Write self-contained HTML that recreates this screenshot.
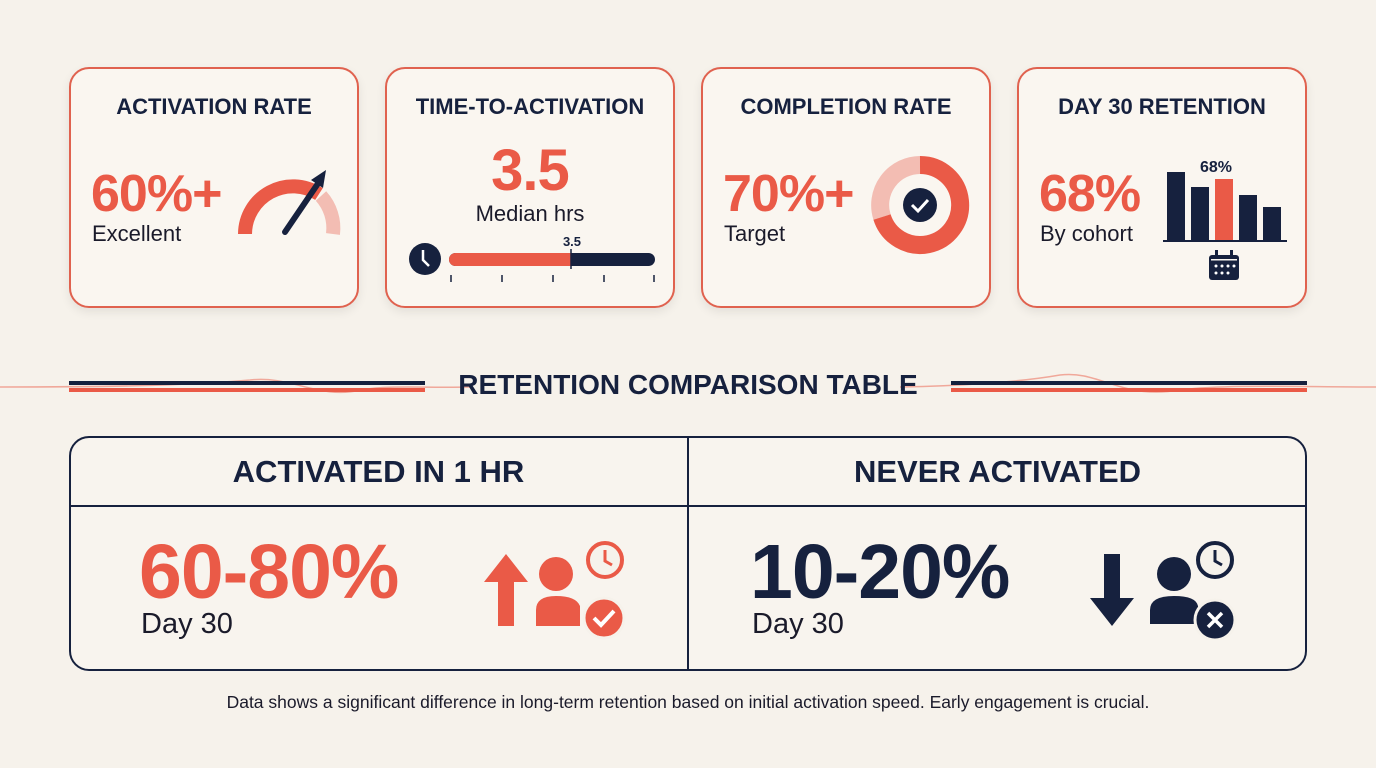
<!DOCTYPE html>
<html><head><meta charset="utf-8"><style>
*{margin:0;padding:0;box-sizing:border-box}
body{width:1376px;height:768px;background:#f6f2eb;font-family:"Liberation Sans",sans-serif;position:relative;overflow:hidden;color:#16213e}
.a{position:absolute}
.card{position:absolute;top:67px;width:290px;height:241px;border:2px solid #e0624f;border-radius:20px;background:#faf6f0;box-shadow:0 4px 10px rgba(0,0,0,0.08)}
.ct{position:absolute;top:25px;left:0;width:100%;text-align:center;font-weight:bold;font-size:22px;color:#16213e}
.big{font-weight:bold;color:#ea5a47;font-size:52px;letter-spacing:-1px}
.sub{font-size:22px;color:#1a1a2a}
</style></head><body>
<svg class="a" style="left:0;top:340px" width="1376" height="80"><path d="M0 47 C100 47 180 46 250 40 C290 35 320 60 360 50 C390 45 420 48 470 47" stroke="#f0a89a" fill="none" stroke-width="1.5"/><path d="M900 47 C960 46 1020 42 1060 35 C1100 30 1120 60 1180 50 C1230 44 1300 47 1376 47" stroke="#f0a89a" fill="none" stroke-width="1.5"/>
<rect x="69" y="41" width="356" height="4" fill="#16213e"/><rect x="69" y="48" width="356" height="4" fill="#ea5a47"/>
<rect x="951" y="41" width="356" height="4" fill="#16213e"/><rect x="951" y="48" width="356" height="4" fill="#ea5a47"/></svg>

<div class="card" style="left:69px"><div class="ct">ACTIVATION RATE</div>
<div class="a big" style="left:20px;top:95px">60%+</div><div class="a sub" style="left:21px;top:152px">Excellent</div>
<svg class="a" style="left:160px;top:95px" width="120" height="80"><path d="M14 70 A48 48 0 0 1 88 30" stroke="#ea5a47" stroke-width="14" fill="none"/><path d="M90 32 A48 48 0 0 1 102 70" stroke="#f3bdb3" stroke-width="14" fill="none"/><line x1="54" y1="68" x2="88" y2="18" stroke="#16213e" stroke-width="6" stroke-linecap="round"/><polygon points="95,6 80,16 92,24" fill="#16213e"/></svg></div>

<div class="card" style="left:385px"><div class="ct">TIME-TO-ACTIVATION</div>
<div class="a big" style="left:0;width:100%;text-align:center;top:68px;font-size:58px">3.5</div><div class="a sub" style="left:0;width:100%;text-align:center;top:132px">Median hrs</div>
<svg class="a" style="left:20px;top:160px" width="260" height="60"><circle cx="18" cy="30" r="16" fill="#16213e"/><path d="M16 21 L16 31 L22 37" stroke="#fff" stroke-width="2.5" fill="none"/><rect x="42" y="24" width="206" height="13" rx="6.5" fill="#16213e"/><rect x="42" y="24" width="122" height="13" rx="6.5" fill="#ea5a47"/><rect x="150" y="24" width="14" height="13" fill="#ea5a47"/><line x1="164" y1="20" x2="164" y2="40" stroke="#16213e" stroke-width="1.5"/><text x="165" y="17" font-size="13" font-weight="bold" text-anchor="middle" fill="#16213e" font-family="Liberation Sans">3.5</text><g stroke="#16213e" stroke-width="1.5"><line x1="44" y1="46" x2="44" y2="53"/><line x1="95" y1="46" x2="95" y2="53"/><line x1="146" y1="46" x2="146" y2="53"/><line x1="197" y1="46" x2="197" y2="53"/><line x1="247" y1="46" x2="247" y2="53"/></g></svg></div>

<div class="card" style="left:701px"><div class="ct">COMPLETION RATE</div>
<div class="a big" style="left:20px;top:95px">70%+</div><div class="a sub" style="left:21px;top:152px">Target</div>
<svg class="a" style="left:165px;top:84px" width="104" height="104"><path d="M52 12 A40 40 0 0 0 14 64" stroke="#f3bdb3" stroke-width="18" fill="none"/><path d="M52 12 A40 40 0 1 1 14 64" stroke="#ea5a47" stroke-width="18" fill="none"/><circle cx="52" cy="52" r="17" fill="#16213e"/><path d="M44 52 L50 58 L60 47" stroke="#fff" stroke-width="3" fill="none"/></svg></div>

<div class="card" style="left:1017px"><div class="ct">DAY 30 RETENTION</div>
<div class="a big" style="left:20px;top:95px">68%</div><div class="a sub" style="left:21px;top:152px">By cohort</div>
<svg class="a" style="left:140px;top:80px" width="135" height="135"><text x="57" y="23" font-size="16" font-weight="bold" text-anchor="middle" fill="#16213e" font-family="Liberation Sans">68%</text><rect x="8" y="23" width="18" height="68" fill="#16213e"/><rect x="32" y="38" width="18" height="53" fill="#16213e"/><rect x="56" y="30" width="18" height="61" fill="#ea5a47"/><rect x="80" y="46" width="18" height="45" fill="#16213e"/><rect x="104" y="58" width="18" height="33" fill="#16213e"/><line x1="4" y1="92" x2="128" y2="92" stroke="#16213e" stroke-width="2"/><rect x="50" y="106" width="30" height="25" rx="3" fill="#16213e"/><rect x="56" y="101" width="3" height="8" fill="#16213e"/><rect x="71" y="101" width="3" height="8" fill="#16213e"/><rect x="52" y="110" width="26" height="1.5" fill="#faf6f0"/><g fill="#fff"><circle cx="57" cy="117" r="1.5"/><circle cx="63" cy="117" r="1.5"/><circle cx="69" cy="117" r="1.5"/><circle cx="75" cy="117" r="1.5"/><circle cx="57" cy="124" r="1.5"/><circle cx="63" cy="124" r="1.5"/><circle cx="69" cy="124" r="1.5"/></g></svg></div>

<div class="a" style="left:0;width:1376px;top:369px;text-align:center;font-weight:bold;font-size:28px">RETENTION COMPARISON TABLE</div>

<div class="a" style="left:69px;top:436px;width:1238px;height:235px;border:2px solid #16213e;border-radius:20px;background:#f8f4ee"></div>
<div class="a" style="left:69px;top:505px;width:1238px;height:2px;background:#16213e"></div>
<div class="a" style="left:687px;top:436px;width:2px;height:235px;background:#16213e"></div>
<div class="a" style="left:69px;width:619px;top:454px;text-align:center;font-weight:bold;font-size:31px">ACTIVATED IN 1 HR</div>
<div class="a" style="left:688px;width:619px;top:454px;text-align:center;font-weight:bold;font-size:31px">NEVER ACTIVATED</div>
<div class="a" style="left:139px;top:528px;font-weight:bold;font-size:77px;color:#ea5a47;letter-spacing:-1px">60-80%</div>
<div class="a sub" style="left:141px;top:608px;font-size:29px">Day 30</div>
<div class="a" style="left:750px;top:528px;font-weight:bold;font-size:77px;color:#16213e;letter-spacing:-1px">10-20%</div>
<div class="a sub" style="left:752px;top:608px;font-size:29px">Day 30</div>
<svg class="a" style="left:480px;top:540px" width="150" height="100"><polygon points="26,14 4,42 18,42 18,86 34,86 34,42 48,42" fill="#ea5a47"/><circle cx="76" cy="34" r="17" fill="#ea5a47"/><path d="M56 86 V70 Q56 56 76 56 Q96 56 100 66 V86 Z" fill="#ea5a47"/><circle cx="125" cy="20" r="17" fill="#f6f2eb" stroke="#ea5a47" stroke-width="4"/><path d="M125 10 V21 L132 25" stroke="#ea5a47" stroke-width="3" fill="none"/><circle cx="124" cy="78" r="20" fill="#ea5a47" stroke="#f6f2eb" stroke-width="3"/><path d="M114 78 L121 85 L134 71" stroke="#fff" stroke-width="4" fill="none"/></svg>
<svg class="a" style="left:1088px;top:540px" width="150" height="100"><polygon points="24,86 2,58 16,58 16,14 32,14 32,58 46,58" fill="#16213e"/><circle cx="86" cy="34" r="17" fill="#16213e"/><path d="M62 84 V70 Q62 56 86 56 Q108 56 110 66 V84 Z" fill="#16213e"/><circle cx="127" cy="20" r="17" fill="#f6f2eb" stroke="#16213e" stroke-width="4"/><path d="M127 10 V21 L134 25" stroke="#16213e" stroke-width="3" fill="none"/><circle cx="127" cy="80" r="20" fill="#16213e" stroke="#f6f2eb" stroke-width="3"/><path d="M120 73 L134 87 M134 73 L120 87" stroke="#fff" stroke-width="3.5"/></svg>

<div class="a" style="left:0;width:1376px;top:692px;text-align:center;font-size:17.5px;color:#1a1a2a">Data shows a significant difference in long-term retention based on initial activation speed. Early engagement is crucial.</div>
</body></html>
